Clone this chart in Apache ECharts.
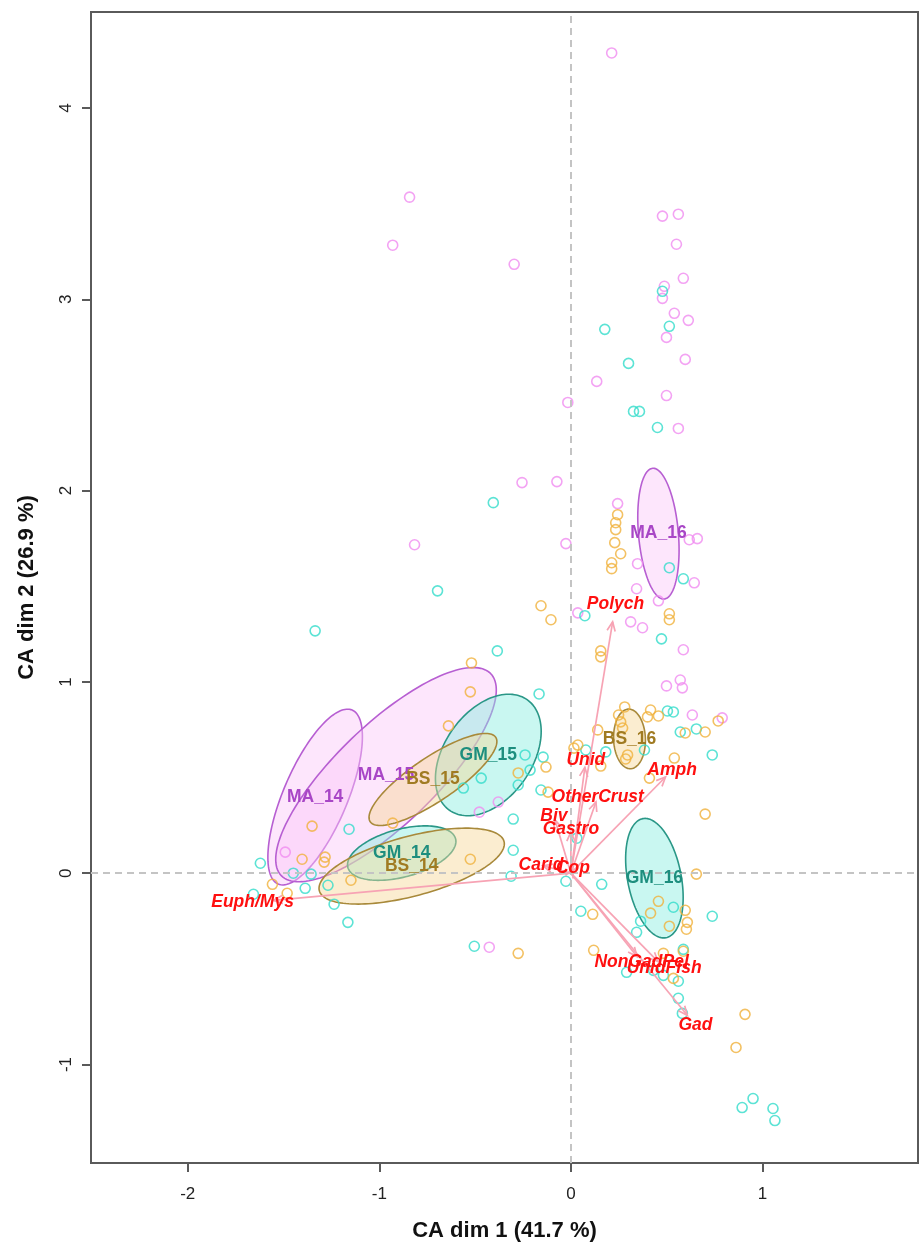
<!DOCTYPE html>
<html>
<head>
<meta charset="utf-8">
<script src="https://cdn.jsdelivr.net/npm/echarts@6/dist/echarts.min.js"></script>
<style>
html,body{margin:0;padding:0;background:#ffffff;}
#chart{width:919px;height:1243px;}
</style>
</head>
<body>
<div id="chart"></div>
<script>
// Row coordinates of the samples on CA dimensions 1 and 2, by site group
const maPoints = [
  [0.213,4.288],[-0.842,3.534],[-0.930,3.283],[-0.296,3.183],[0.478,3.435],[0.561,3.445],
  [0.551,3.288],[0.587,3.110],[0.488,3.068],[0.478,3.005],[0.540,2.927],[0.613,2.890],
  [0.499,2.801],[0.597,2.686],[0.135,2.571],[0.499,2.497],[-0.016,2.461],[0.561,2.325],
  [-0.255,2.042],[-0.073,2.047],[0.244,1.932],[-0.026,1.723],[-0.816,1.717],[0.618,1.743],
  [0.660,1.749],[0.348,1.618],[0.644,1.518],[0.343,1.487],[0.457,1.424],[0.036,1.361],
  [0.312,1.314],[0.374,1.283],[0.587,1.168],[0.499,0.979],[0.571,1.010],[0.582,0.969],
  [0.634,0.827],[0.790,0.812],[-0.379,0.372],[-0.478,0.319],[-0.426,-0.387],[-1.491,0.110]
];
const gmPoints = [
  [0.478,3.042],[0.514,2.859],[0.177,2.843],[0.301,2.665],[0.327,2.414],[0.358,2.414],
  [0.452,2.330],[-0.405,1.937],[0.514,1.597],[0.587,1.539],[-0.696,1.476],[0.073,1.346],
  [-1.335,1.267],[0.473,1.225],[-0.384,1.162],[-0.166,0.937],[0.504,0.848],[0.535,0.843],
  [0.571,0.738],[0.655,0.754],[0.078,0.644],[0.182,0.634],[0.384,0.644],[0.738,0.618],
  [-0.239,0.618],[-0.145,0.607],[-0.213,0.539],[-0.468,0.497],[-0.561,0.445],[-0.275,0.461],
  [-0.156,0.435],[-0.301,0.283],[0.031,0.183],[-0.301,0.120],[-0.312,-0.016],[-0.026,-0.042],
  [0.161,-0.058],[-1.158,0.230],[-1.621,0.052],[-1.449,0.000],[-1.356,-0.005],[-1.387,-0.079],
  [-1.268,-0.063],[-1.657,-0.110],[-1.236,-0.162],[-1.164,-0.257],[0.535,-0.178],[0.738,-0.225],
  [0.052,-0.199],[0.364,-0.251],[0.343,-0.309],[-0.504,-0.382],[0.587,-0.398],[0.291,-0.518],
  [0.431,-0.508],[0.483,-0.534],[0.561,-0.565],[0.561,-0.654],[0.582,-0.733],[0.951,-1.178],
  [0.894,-1.225],[1.055,-1.230],[1.065,-1.293]
];
const bsPoints = [
  [0.244,1.874],[0.234,1.832],[0.234,1.796],[0.229,1.728],[0.260,1.670],[0.213,1.623],
  [0.213,1.592],[-0.156,1.398],[-0.104,1.325],[0.514,1.356],[0.514,1.325],[0.156,1.162],
  [0.156,1.131],[-0.519,1.099],[-0.525,0.948],[0.281,0.869],[0.416,0.853],[0.457,0.822],
  [0.400,0.817],[0.249,0.827],[0.260,0.791],[0.270,0.759],[0.769,0.796],[0.597,0.733],
  [0.701,0.738],[0.140,0.749],[0.036,0.670],[0.016,0.654],[0.296,0.618],[0.286,0.597],
  [0.540,0.602],[0.156,0.560],[0.410,0.497],[0.701,0.309],[-0.639,0.770],[-0.130,0.555],
  [-0.275,0.524],[-0.119,0.424],[-0.525,0.073],[-0.930,0.262],[-1.351,0.246],[-1.403,0.073],
  [-1.283,0.084],[-1.288,0.058],[-1.558,-0.058],[-1.481,-0.105],[-1.148,-0.037],[0.655,-0.005],
  [0.457,-0.147],[0.416,-0.209],[0.597,-0.194],[0.114,-0.215],[0.514,-0.277],[0.608,-0.257],
  [0.603,-0.293],[0.119,-0.403],[-0.275,-0.419],[0.483,-0.419],[0.587,-0.408],[0.535,-0.550],
  [0.909,-0.738],[0.862,-0.911]
];

// Confidence ellipses per group: centre, semi-axes (CA units) and tilt (degrees)
const ellipseNames = ['MA_14','MA_15','MA_16','GM_14','GM_15','GM_16','BS_14','BS_15','BS_16'];
const ellipseCx    = [-1.335,-0.965, 0.457,-0.883,-0.431, 0.436,-0.831,-0.720, 0.306];
const ellipseCy    = [ 0.398, 0.515, 1.775, 0.105, 0.618,-0.026, 0.037, 0.490, 0.702];
const ellipseA     = [ 0.494, 0.760, 0.343, 0.291, 0.353, 0.317, 0.499, 0.395, 0.156];
const ellipseB     = [ 0.167, 0.260, 0.104, 0.125, 0.229, 0.140, 0.156, 0.115, 0.083];
const ellipseTilt  = [ 67,    44,    95,    15,    55,    101,   15,    34,    92   ];

// Column (prey) coordinates
const preyNames = ['Euph/Mys','Polych','Amph','Gad','Unid','OtherCrust','Biv','Gastro','Carid','Cop','NonGadPel','UnidFish'];
const preyX     = [-1.553, 0.218, 0.494, 0.608, 0.073, 0.131,-0.083, 0.000,-0.146, 0.010, 0.345, 0.455];
const preyY     = [-0.142, 1.314, 0.503,-0.743, 0.553, 0.372, 0.279, 0.215, 0.039, 0.024,-0.436,-0.462];

// Axis ticks
const xTicks = [-2,-1,0,1];
const yTicks = [-1,0,1,2,3,4];

const groupStyle = {
  MA: {point:'#f08cf0', stroke:'#b75fd2', fill:'rgba(250,200,248,0.45)', text:'#a846c6'},
  GM: {point:'#33dccb', stroke:'#2a9787', fill:'rgba(135,238,225,0.45)', text:'#1d8e7e'},
  BS: {point:'#f0b23c', stroke:'#a8893a', fill:'rgba(246,214,150,0.45)', text:'#a07b22'}
};
const FONT = '"Liberation Sans", Arial, sans-serif';
const LABEL_SCALE = 1.07;

const chart = echarts.init(document.getElementById('chart'), null, {renderer:'canvas'});

function scatter(name, pts, color) {
  return {
    type:'scatter', name, data: pts, z:3,
    symbol:'circle', symbolSize:10,
    itemStyle:{color:'rgba(0,0,0,0)', borderColor: color, borderWidth:1.6},
    emphasis:{disabled:true}, silent:true
  };
}

const ellipseData = ellipseNames.map((n,i)=>[ellipseCx[i],ellipseCy[i],ellipseA[i],ellipseB[i],ellipseTilt[i],i]);

function ellipsePoints(api) {
  const cx=api.value(0), cy=api.value(1), a=api.value(2), b=api.value(3), th=api.value(4)*Math.PI/180;
  const pts=[];
  for (let k=0;k<=144;k++){
    const t=k/144*Math.PI*2;
    const x=cx+a*Math.cos(t)*Math.cos(th)-b*Math.sin(t)*Math.sin(th);
    const y=cy+a*Math.cos(t)*Math.sin(th)+b*Math.sin(t)*Math.cos(th);
    pts.push(api.coord([x,y]));
  }
  return pts;
}

const preyData = preyNames.map((n,i)=>[preyX[i],preyY[i],i]);

const option = {
  animation:false,
  backgroundColor:'#ffffff',
  grid:{left:91, right:1, top:12, bottom:80, outerBoundsMode:'none', containLabel:false,
        show:true, borderColor:'#5a5a5a', borderWidth:2, backgroundColor:'rgba(0,0,0,0)'},
  xAxis:{
    type:'value', min:-2.505, max:1.812,
    name:'CA dim 1 (41.7 %)', nameLocation:'middle', nameGap:57,
    nameTextStyle:{fontFamily:FONT, fontSize:22, fontWeight:'bold', color:'#111'},
    axisLine:{show:true, onZero:false, lineStyle:{color:'#5a5a5a', width:2}},
    axisTick:{show:true, inside:false, length:9, customValues:xTicks, lineStyle:{color:'#5a5a5a', width:2}},
    axisLabel:{show:true, customValues:xTicks, margin:23, fontFamily:FONT, fontSize:17, color:'#222'},
    splitLine:{show:false}
  },
  yAxis:{
    type:'value', min:-1.515, max:4.502,
    name:'CA dim 2 (26.9 %)', nameLocation:'middle', nameGap:53, nameRotate:90,
    nameTextStyle:{fontFamily:FONT, fontSize:22, fontWeight:'bold', color:'#111'},
    axisLine:{show:true, onZero:false, lineStyle:{color:'#5a5a5a', width:2}},
    axisTick:{show:true, inside:false, length:9, customValues:yTicks, lineStyle:{color:'#5a5a5a', width:2}},
    axisLabel:{show:true, customValues:yTicks, rotate:90, margin:16, fontFamily:FONT, fontSize:17, color:'#222'},
    splitLine:{show:false}
  },
  series:[
    {
      // origin reference lines
      type:'line', data:[], z:1, silent:true,
      markLine:{
        silent:true, symbol:'none', label:{show:false},
        lineStyle:{color:'#c4c4c4', type:[7,5], width:2},
        data:[{xAxis:0},{yAxis:0}]
      }
    },
    {
      type:'custom', z:2, silent:true, data: ellipseData,
      renderItem(params, api){
        const st = groupStyle[ellipseNames[api.value(5)].slice(0,2)];
        return {type:'polygon', shape:{points:ellipsePoints(api), smooth:0},
          style:{fill:st.fill, stroke:st.stroke, lineWidth:1.6}};
      }
    },
    scatter('MA', maPoints, groupStyle.MA.point),
    scatter('GM', gmPoints, groupStyle.GM.point),
    scatter('BS', bsPoints, groupStyle.BS.point),
    {
      type:'custom', z:4, silent:true, data: preyData,
      renderItem(params, api){
        const o = api.coord([0,0]);
        const p = api.coord([api.value(0), api.value(1)]);
        const ang = Math.atan2(p[1]-o[1], p[0]-o[0]);
        const h = 10, w = 0.42;
        const h1 = [p[0]-h*Math.cos(ang-w), p[1]-h*Math.sin(ang-w)];
        const h2 = [p[0]-h*Math.cos(ang+w), p[1]-h*Math.sin(ang+w)];
        const stroke = {stroke:'#f7a3b4', lineWidth:1.7, fill:null};
        return {type:'group', children:[
          {type:'line', shape:{x1:o[0],y1:o[1],x2:p[0],y2:p[1]}, style:stroke},
          {type:'polyline', shape:{points:[h1,p,h2]}, style:stroke}
        ]};
      }
    },
    {
      type:'custom', z:5, silent:true, data: ellipseData,
      renderItem(params, api){
        const name = ellipseNames[api.value(5)];
        const st = groupStyle[name.slice(0,2)];
        const c = api.coord([api.value(0), api.value(1)]);
        return {type:'text', x:c[0], y:c[1], style:{text:name, fill:st.text, font:'bold 17.5px '+FONT, textAlign:'center', textVerticalAlign:'middle'}};
      }
    },
    {
      type:'custom', z:6, silent:true, data: preyData,
      renderItem(params, api){
        const c = api.coord([api.value(0)*LABEL_SCALE, api.value(1)*LABEL_SCALE]);
        return {type:'text', x:c[0], y:c[1], style:{text:preyNames[api.value(2)], fill:'#ff1010', font:'italic bold 17.5px '+FONT, textAlign:'center', textVerticalAlign:'middle'}};
      }
    }
  ]
};
chart.setOption(option);
</script>
</body>
</html>
